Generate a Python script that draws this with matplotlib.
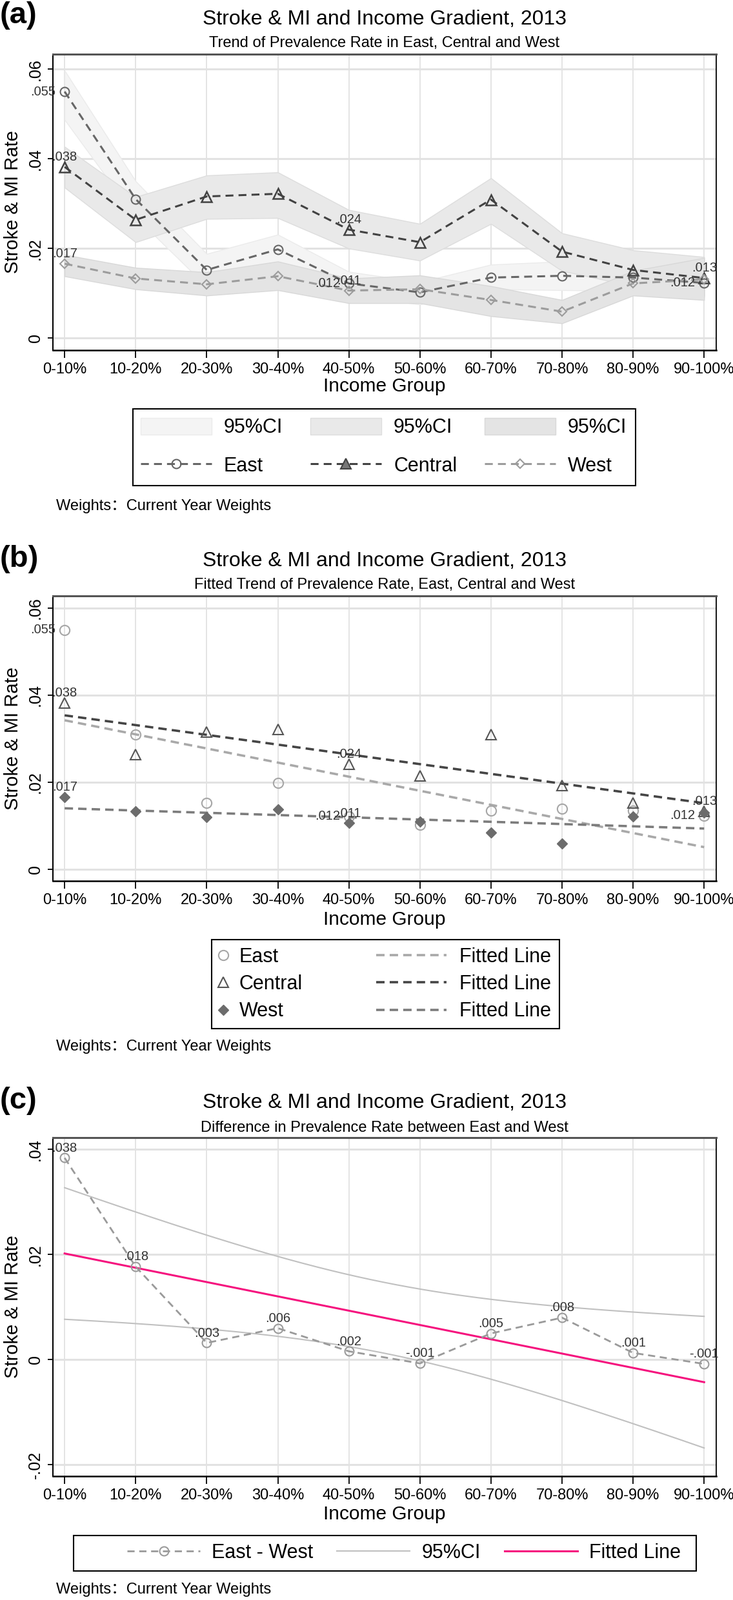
import numpy as np
import matplotlib
matplotlib.use("Agg")
import matplotlib.pyplot as plt
from matplotlib.lines import Line2D
from matplotlib.patches import Patch, Rectangle

plt.rcParams['font.family'] = ['Liberation Sans', 'Noto Sans CJK SC', 'DejaVu Sans']

# ---------------- data ----------------
groups = ["0-10%", "10-20%", "20-30%", "30-40%", "40-50%",
          "50-60%", "60-70%", "70-80%", "80-90%", "90-100%"]

east = [0.0550, 0.0310, 0.0152, 0.0198, 0.0122, 0.0102, 0.0135, 0.0139, 0.0135, 0.0123]
central = [0.0382, 0.0264, 0.0316, 0.0322, 0.0242, 0.0214, 0.0309, 0.0193, 0.0152, 0.0134]
west = [0.0166, 0.0133, 0.0120, 0.0138, 0.0106, 0.0109, 0.0085, 0.0059, 0.0122, 0.0131]

east_lo = [0.0487, 0.0270, 0.0115, 0.0160, 0.0095, 0.0075, 0.0109, 0.0107, 0.0105, 0.0095]
east_hi = [0.0597, 0.0350, 0.0188, 0.0231, 0.0148, 0.0125, 0.0164, 0.0171, 0.0165, 0.0152]
central_lo = [0.0336, 0.0214, 0.0266, 0.0268, 0.0200, 0.0173, 0.0255, 0.0150, 0.0116, 0.0092]
central_hi = [0.0427, 0.0315, 0.0363, 0.0370, 0.0286, 0.0255, 0.0357, 0.0234, 0.0196, 0.0181]
west_lo = [0.0138, 0.0109, 0.0095, 0.0107, 0.0078, 0.0078, 0.0049, 0.0033, 0.0095, 0.0085]
west_hi = [0.0186, 0.0157, 0.0147, 0.0171, 0.0133, 0.0140, 0.0116, 0.0085, 0.0150, 0.0179]

east_label_idx = [0, 4, 9]
central_label_idx = [0, 4, 9]
west_label_idx = [0, 4]

yticks_ab = [0, 0.02, 0.04, 0.06]
yticklabels_ab = ["0", ".02", ".04", ".06"]
yticks_c = [-0.02, 0, 0.02, 0.04]
yticklabels_c = ["-.02", "0", ".02", ".04"]

title = "Stroke & MI and Income Gradient, 2013"
subtitle_a = "Trend of Prevalence Rate in East, Central and West"
subtitle_b = "Fitted Trend of Prevalence Rate, East, Central and West"
subtitle_c = "Difference in Prevalence Rate between East and West"
note = "Weights\uff1aCurrent Year Weights"
t_crit = 2.306  # t(0.975, df=8)

# ---------------- layout helpers ----------------
W, H = 1136, 2481
fig = plt.figure(figsize=(W / 100, H / 100), dpi=100)


def fx(p):
    return p / W


def fy(p):
    return 1 - p / H


x = np.arange(len(groups))

C_EAST = '#666666'
C_CENT = '#424242'
C_WEST = '#9c9c9c'
DASH = (0, (4, 2.6))


def make_ax(top, bottom, ylim, yticks, yticklabels):
    ax = fig.add_axes([fx(82), fy(bottom), fx(1110) - fx(82), (bottom - top) / H])
    ax.set_xlim(-0.165, 9.17)
    ax.set_ylim(*ylim)
    ax.set_xticks(x)
    ax.set_xticklabels(groups, fontsize=17)
    ax.set_yticks(yticks)
    ax.set_yticklabels(yticklabels, fontsize=18, rotation=90, va='center')
    ax.tick_params(axis='x', length=8.6, width=1.3, pad=5.0, color='black')
    ax.tick_params(axis='y', length=6, width=1.3, pad=5, color='black')
    ax.xaxis.grid(True, color='#e4e4e4', lw=1.4)
    ax.yaxis.grid(True, color='#e2e2e2', lw=2.2)
    ax.set_axisbelow(True)
    ax.spines['left'].set_linewidth(1.5)
    ax.spines['bottom'].set_linewidth(1.8)
    ax.spines['top'].set_color('#555555')
    ax.spines['top'].set_linewidth(2.2)
    ax.spines['right'].set_linewidth(1.3)
    return ax


def fmt(v):
    return f"{v:.3f}".replace("0.", ".", 1)


def lab(ax, xi, yi, pos):
    if pos == 12:
        ax.annotate(fmt(yi), (xi, yi), xytext=(0, 7), textcoords='offset points',
                    ha='center', va='baseline', fontsize=14.5, color='#333333', zorder=6)
    else:
        ax.annotate(fmt(yi), (xi, yi), xytext=(-10, 0), textcoords='offset points',
                    ha='right', va='center', fontsize=14.5, color='#333333', zorder=6)


def headers(letter, top_letter, title_base, sub_base, sub, xlabel_base, note_base, axcenter):
    fig.text(fx(0), fy(top_letter), letter, fontsize=34, fontweight='bold', ha='left', va='top')
    fig.text(fx(596), fy(title_base), title, fontsize=23, ha='center', va='baseline')
    fig.text(fx(596), fy(sub_base), sub, fontsize=17, ha='center', va='baseline')
    fig.text(fx(596), fy(xlabel_base), "Income Group", fontsize=21.5, ha='center', va='baseline')
    fig.text(fx(87), fy(note_base), note, fontsize=17, ha='left', va='baseline')
    fig.text(fx(20), fy(axcenter), "Stroke & MI Rate", fontsize=21, rotation=90,
             ha='center', va='center')


def frame(x0, y0, x1, y1):
    fig.add_artist(Rectangle((fx(x0), fy(y1)), fx(x1) - fx(x0), (y1 - y0) / H,
                             transform=fig.transFigure, fill=False,
                             edgecolor='black', lw=1.5, zorder=10))


# ---------------- panel (a) ----------------
axa = make_ax(84, 543, (-0.0027, 0.06335), yticks_ab, yticklabels_ab)
axa.fill_between(x, east_lo, east_hi, facecolor='#f4f4f4', edgecolor='#ebebeb', lw=1, zorder=1)
axa.fill_between(x, central_lo, central_hi, facecolor='#e9e9e9', edgecolor='#dddddd', lw=1, zorder=1.1)
axa.fill_between(x, west_lo, west_hi, facecolor='#e4e4e4', edgecolor='#d8d8d8', lw=1, zorder=1.2)
axa.plot(x, east, ls=DASH, color=C_EAST, lw=2.2, marker='o', ms=10, mfc='none',
         mec=C_EAST, mew=1.5, zorder=3)
axa.plot(x, central, ls=DASH, color=C_CENT, lw=2.2, marker='^', ms=11, mfc='none',
         mec=C_CENT, mew=1.8, zorder=3.1)
axa.plot(x, west, ls=DASH, color=C_WEST, lw=2.2, marker='D', ms=7, mfc='none',
         mec=C_WEST, mew=1.5, zorder=3.2)
for i in east_label_idx:
    lab(axa, x[i], east[i], 9)
for i in central_label_idx:
    lab(axa, x[i], central[i], 12)
for i in west_label_idx:
    lab(axa, x[i], west[i], 12)

headers("(a)", 2, 38, 73, subtitle_a, 607, 791, 313)

h_a = [Patch(facecolor='#f4f4f4', edgecolor='#ebebeb'),
       Line2D([], [], ls=DASH, color=C_EAST, lw=2.2, marker='o', ms=10, mfc='none', mec=C_EAST, mew=1.5),
       Patch(facecolor='#e9e9e9', edgecolor='#dddddd'),
       Line2D([], [], ls=DASH, color=C_CENT, lw=2.2, marker='^', ms=11, mfc='#777777', mec=C_CENT, mew=1.5),
       Patch(facecolor='#e4e4e4', edgecolor='#d8d8d8'),
       Line2D([], [], ls=DASH, color=C_WEST, lw=2.2, marker='D', ms=7, mfc='none', mec=C_WEST, mew=1.5)]
l_a = ["95%CI", "East", "95%CI", "Central", "95%CI", "West"]
fig.legend(h_a, l_a, ncol=3, loc='center left', bbox_to_anchor=(fx(218), fy(693)),
           frameon=False, borderpad=0, borderaxespad=0, fontsize=22,
           handlelength=3.6, handleheight=0.92, handletextpad=0.62,
           columnspacing=1.4, labelspacing=0.95)
frame(206, 634, 985, 753)

# ---------------- panel (b) ----------------
axb = make_ax(924, 1366, (-0.00267, 0.0628), yticks_ab, yticklabels_ab)
C_EF, C_CF, C_WF = '#a9a9a9', '#454545', '#7c7c7c'
xs = np.linspace(0, 9, 50)
for data, col, z in [(east, C_EF, 2), (central, C_CF, 2.1), (west, C_WF, 2.2)]:
    b1, b0 = np.polyfit(x, data, 1)
    axb.plot(xs, b0 + b1 * xs, ls=(0, (3.6, 2.2)), color=col, lw=2.6, zorder=z)
axb.plot(x, east, ls='none', marker='o', ms=11, mfc='none', mec='#a6a6a6', mew=1.5, zorder=4)
axb.plot(x, central, ls='none', marker='^', ms=12, mfc='none', mec='#555555', mew=1.5, zorder=4)
axb.plot(x, west, ls='none', marker='D', ms=8, mfc='#6c6c6c', mec='#6c6c6c', mew=1, zorder=4)
for i in east_label_idx:
    lab(axb, x[i], east[i], 9)
for i in central_label_idx:
    lab(axb, x[i], central[i], 12)
for i in west_label_idx:
    lab(axb, x[i], west[i], 12)

headers("(b)", 845, 878, 913, subtitle_b, 1434, 1629, 1145)

h_b1 = [Line2D([], [], ls='none', marker='o', ms=11, mfc='none', mec='#a6a6a6', mew=1.5),
        Line2D([], [], ls='none', marker='^', ms=12, mfc='none', mec='#555555', mew=1.5),
        Line2D([], [], ls='none', marker='D', ms=8, mfc='#6c6c6c', mec='#6c6c6c')]
fig.legend(h_b1, ["East", "Central", "West"], loc='center left',
           bbox_to_anchor=(fx(334), fy(1526)), frameon=False, borderpad=0, borderaxespad=0,
           fontsize=22, handlelength=0.8, handletextpad=0.41, labelspacing=0.4)
h_b2 = [Line2D([], [], ls=(0, (3.6, 2.2)), color=c, lw=2.6) for c in (C_EF, C_CF, C_WF)]
fig.legend(h_b2, ["Fitted Line"] * 3, loc='center left',
           bbox_to_anchor=(fx(583), fy(1526)), frameon=False, borderpad=0, borderaxespad=0,
           fontsize=22, handlelength=3.56, handletextpad=0.65, labelspacing=0.4)
frame(328, 1457, 867, 1595)

# ---------------- panel (c) ----------------
axc = make_ax(1764, 2289, (-0.02216, 0.04226), yticks_c, yticklabels_c)
diff = np.array(east) - np.array(west)
n = len(diff)
b1, b0 = np.polyfit(x, diff, 1)
resid = diff - (b0 + b1 * x)
s = np.sqrt(np.sum(resid ** 2) / (n - 2))
sxx = np.sum((x - x.mean()) ** 2)
xf = np.linspace(0, 9, 200)
fit = b0 + b1 * xf
hw = t_crit * s * np.sqrt(1 / n + (xf - x.mean()) ** 2 / sxx)
axc.plot(xf, fit + hw, color='#c0c0c0', lw=1.5, zorder=2)
axc.plot(xf, fit - hw, color='#c0c0c0', lw=1.5, zorder=2)
axc.plot(xf, fit, color='#f5137e', lw=2.2, zorder=3)
axc.plot(x, diff, ls=(0, (4, 2.6)), color='#9a9a9a', lw=2.0, marker='o', ms=10,
         mfc='none', mec='#9a9a9a', mew=1.5, zorder=4)
for i in range(n):
    lab(axc, x[i], diff[i], 12)

headers("(c)", 1685, 1718, 1755, subtitle_c, 2356, 2471, 2026)

h_c = [Line2D([], [], ls=(0, (4, 2.6)), color='#9a9a9a', lw=2.0, marker='o', ms=10,
              mfc='none', mec='#9a9a9a', mew=1.5),
       Line2D([], [], color='#c0c0c0', lw=1.5),
       Line2D([], [], color='#f5137e', lw=2.2)]
fig.legend(h_c, ["East - West", "95%CI", "Fitted Line"], ncol=3, loc='center left',
           bbox_to_anchor=(fx(197), fy(2408)), frameon=False, borderpad=0, borderaxespad=0,
           fontsize=22, handlelength=3.7, handletextpad=0.6, columnspacing=1.2)
frame(114, 2381, 1079, 2436)

fig.savefig("out.png", dpi=100)
